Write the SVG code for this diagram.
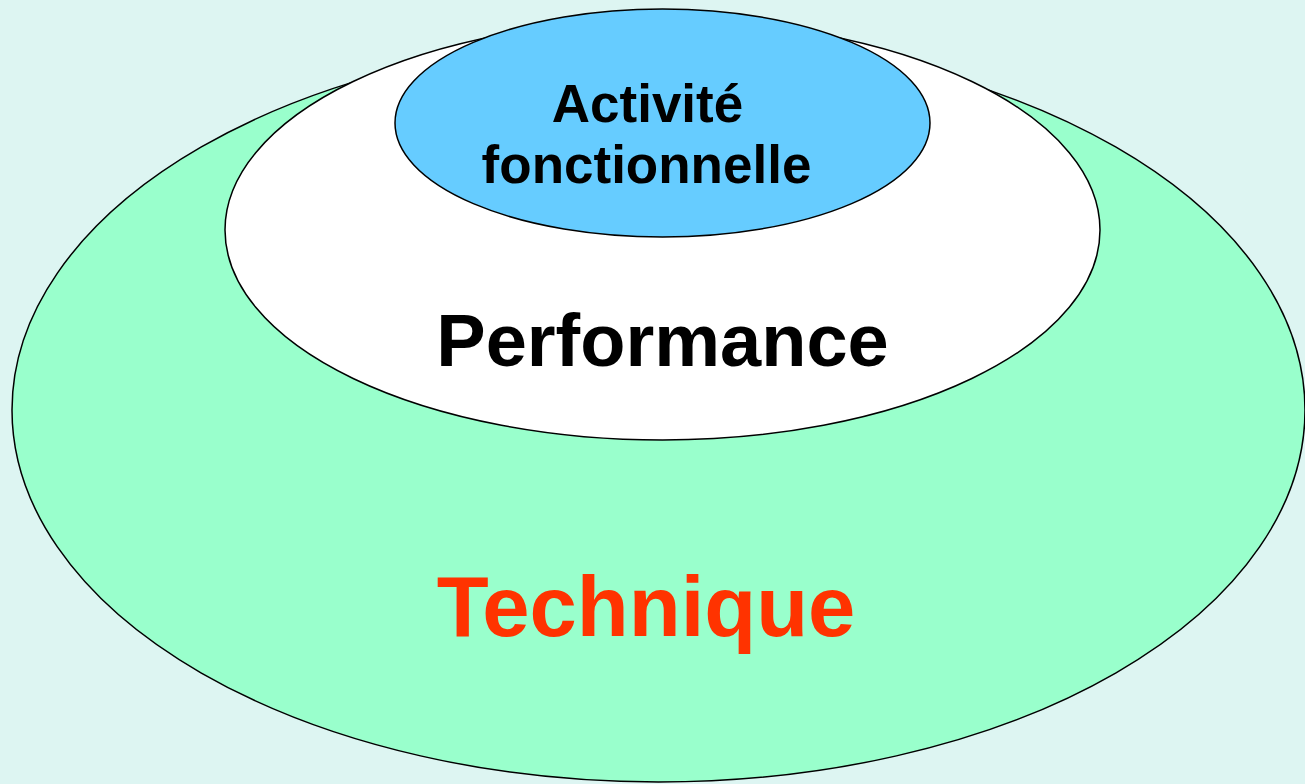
<svg xmlns="http://www.w3.org/2000/svg" width="1305" height="784" viewBox="0 0 1305 784">
<style>
.shape{stroke:#000;stroke-width:1.5}
.lbl{font-family:"Liberation Sans",Arial,sans-serif;font-weight:bold;text-anchor:middle}
</style>
<rect x="0" y="0" width="1305" height="784" fill="#DDF5F2"/>
<g id="technique">
<ellipse class="shape" cx="658.5" cy="410" rx="646.5" ry="372" fill="#99FFCC"/>
<text class="lbl" x="646" y="636" font-size="85" fill="#FF3300">Technique</text>
</g>
<g id="performance">
<ellipse class="shape" cx="662.5" cy="230" rx="437.5" ry="210" fill="#FFFFFF"/>
<text class="lbl" x="662.5" y="366" font-size="74" fill="#000">Performance</text>
</g>
<g id="activite">
<ellipse class="shape" cx="662.5" cy="123" rx="267.5" ry="114" fill="#66CCFF"/>
<text class="lbl" x="647.5" y="122" font-size="53" fill="#000">Activité</text>
<text class="lbl" x="646.5" y="183" font-size="53" fill="#000">fonctionnelle</text>
</g>
<g id="connectors"/>
</svg>
